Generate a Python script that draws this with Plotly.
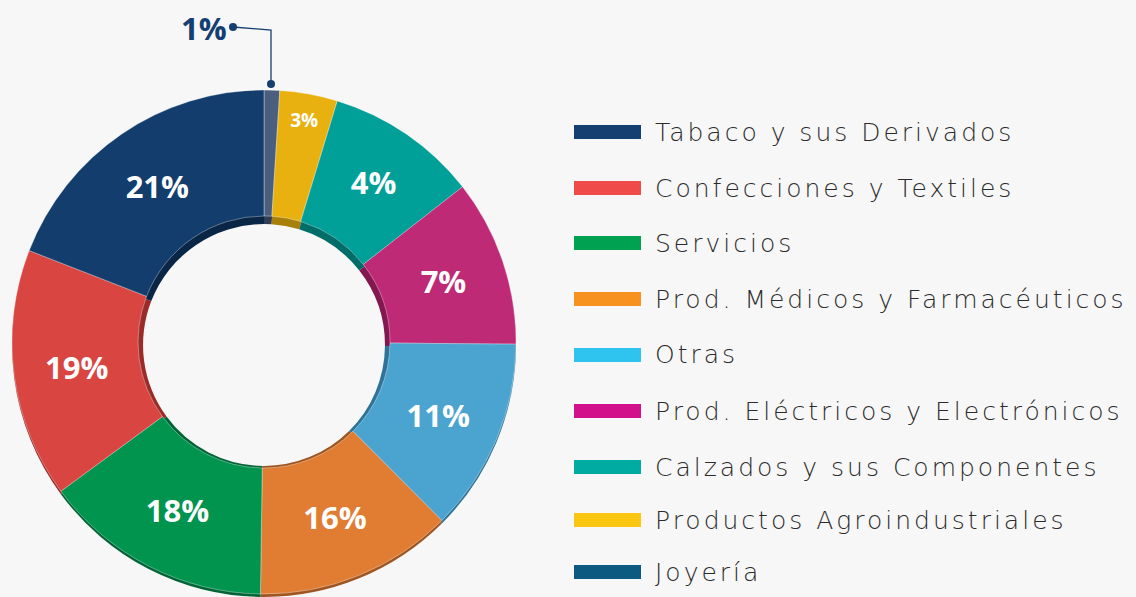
import plotly.graph_objects as go

# ---------------- data ----------------
# slices in drawing order (clockwise from 12 o'clock)
slice_names = ["Joyería", "Productos Agroindustriales", "Calzados y sus Componentes",
               "Prod. Eléctricos y Electrónicos", "Otras", "Prod. Médicos y Farmacéuticos",
               "Servicios", "Confecciones y Textiles", "Tabaco y sus Derivados"]
# angular share as drawn in the picture
slice_values = [1.0, 3.7, 9.75, 10.7, 12.4, 12.7, 14.7, 16.0, 19.1]
# labels printed on the slices
slice_labels = ["1%", "3%", "4%", "7%", "11%", "16%", "18%", "19%", "21%"]

# legend order (top to bottom)
legend_names = ["Tabaco y sus Derivados", "Confecciones y Textiles", "Servicios",
                "Prod. Médicos y Farmacéuticos", "Otras", "Prod. Eléctricos y Electrónicos",
                "Calzados y sus Componentes", "Productos Agroindustriales", "Joyería"]

# ---------------- styles ----------------
W, H = 1136, 597
BG = "#f7f7f7"
pie_colors = ["#4a5f80", "#e8b10f", "#00a099", "#bf2a76", "#4ba3cf",
              "#e07d33", "#00944f", "#d94641", "#133d6c"]
shadow_colors = ["#2f3d55", "#a87f08", "#006d68", "#84174f", "#2e7398",
                 "#9f5520", "#006436", "#9a2b28", "#0a2647"]
legend_colors = ["#143f70", "#ef4b48", "#00a150", "#f7911f", "#2fc3f0",
                 "#d3108b", "#00aba1", "#fcc50f", "#0d5a80"]
label_sizes = [1, 19, 31, 31, 31, 31, 31, 31, 31]


def px(x):
    return x / W


def py(y):  # y measured from top in pixels
    return 1 - y / H


cx, cy, r = 264, 344, 252
shift = 1.0
hole = 0.5

fig = go.Figure()

# shadow (3D edge) pie, slightly lower
fig.add_trace(go.Pie(
    values=slice_values, labels=slice_names, sort=False, direction="clockwise",
    rotation=0, hole=hole - 0.02,
    marker=dict(colors=shadow_colors, line=dict(width=0)),
    domain=dict(x=[px(cx - r), px(cx + r)], y=[py(cy + shift + r), py(cy + shift - r)]),
    textinfo="none", hoverinfo="skip", showlegend=False,
))

# main pie
fig.add_trace(go.Pie(
    values=slice_values, labels=slice_names, sort=False, direction="clockwise",
    rotation=0, hole=hole,
    marker=dict(colors=pie_colors, line=dict(color="rgba(255,255,255,0.35)", width=1)),
    domain=dict(x=[px(cx - r), px(cx + r)], y=[py(cy - 2 + r), py(cy - 2 - r)]),
    text=[("" if i == 0 else t) for i, t in enumerate(slice_labels)],
    texttemplate="%{text}", textposition="inside", insidetextorientation="horizontal",
    textfont=dict(family="Open Sans", size=label_sizes, color="white", weight="bold"),
    showlegend=False, hoverinfo="label+text",
))

# legend built from shapes and annotations
row_y = [132, 188, 243, 299, 355, 411, 467, 520, 572]
shapes = []
annotations = []
for name, col, yy in zip(legend_names, legend_colors, row_y):
    shapes.append(dict(type="rect", xref="paper", yref="paper",
                       x0=px(574), x1=px(641), y0=py(yy + 7), y1=py(yy - 7),
                       fillcolor=col, line=dict(width=0)))
    annotations.append(dict(text=f'<span style="letter-spacing:3px">{name}</span>',
                            xref="paper", yref="paper", x=px(653), y=py(yy),
                            xanchor="left", yanchor="middle", showarrow=False,
                            font=dict(family="DejaVu Sans", size=25, color="#2b2b2b",
                                      weight=300)))

# outside label for the smallest slice, with leader line
lead_col = "#143f70"
shapes.append(dict(type="path", xref="paper", yref="paper",
                   path=f"M {px(233)} {py(27)} L {px(271)} {py(30)} L {px(271)} {py(84)}",
                   line=dict(color=lead_col, width=1.3)))
for (dx, dy) in [(233, 27), (271, 84)]:
    shapes.append(dict(type="circle", xref="paper", yref="paper",
                       x0=px(dx - 4), x1=px(dx + 4), y0=py(dy + 4), y1=py(dy - 4),
                       fillcolor=lead_col, line=dict(width=0)))
annotations.append(dict(text=slice_labels[0], xref="paper", yref="paper",
                        x=px(229), y=py(28), xanchor="right", yanchor="middle",
                        showarrow=False,
                        font=dict(family="Open Sans", size=31, color=lead_col, weight="bold")))

fig.update_layout(
    width=W, height=H, margin=dict(l=0, r=0, t=0, b=0),
    paper_bgcolor=BG, plot_bgcolor=BG,
    shapes=shapes, annotations=annotations,
    showlegend=False,
)

fig.write_html("out.html", config={"displayModeBar": False},
               post_script="document.body.style.margin='0';"
                           "document.body.style.background='" + BG + "';")
